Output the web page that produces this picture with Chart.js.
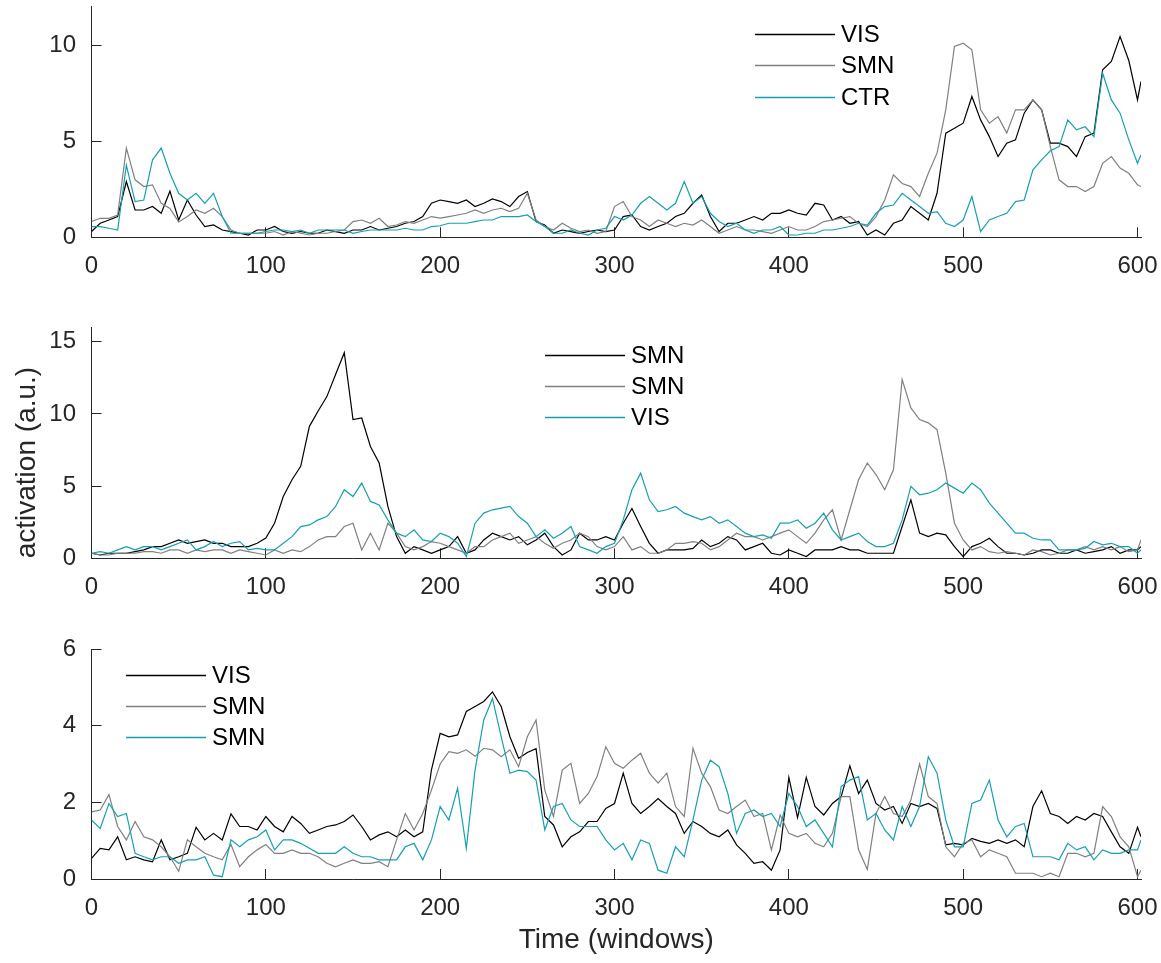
<!DOCTYPE html>
<html>
<head>
<meta charset="utf-8">
<script src="https://cdn.jsdelivr.net/npm/chart.js@4/dist/chart.umd.min.js"></script>
<style>
html,body{margin:0;padding:0;background:#fff;}
#wrap{position:relative;width:1161px;height:963px;}
canvas{position:absolute;left:0;top:0;}
</style>
</head>
<body>
<div id="wrap">
<canvas id="c1" width="1161" height="963"></canvas>
<canvas id="c2" width="1161" height="963"></canvas>
<canvas id="c3" width="1161" height="963"></canvas>
</div>
<script>
// ---- sampling grid (time windows) ----
const windows = [0,5,10,15,20,25,30,35,40,45,50,55,60,65,70,75,80,85,90,95,
100,105,110,115,120,125,130,135,140,145,150,155,160,165,170,175,180,185,190,195,
200,205,210,215,220,225,230,235,240,245,250,255,260,265,270,275,280,285,290,295,
300,305,310,315,320,325,330,335,340,345,350,355,360,365,370,375,380,385,390,395,
400,405,410,415,420,425,430,435,440,445,450,455,460,465,470,475,480,485,490,495,
500,505,510,515,520,525,530,535,540,545,550,555,560,565,570,575,580,585,590,595,
600,602];

// ---- tick labels ----
const xTicks = [0,100,200,300,400,500,600];
const p1YTicks = [0,5,10];
const p2YTicks = [0,5,10,15];
const p3YTicks = [0,2,4,6];

// ---- legend labels ----
const p1Labels = ['VIS','SMN','CTR'];
const p2Labels = ['SMN','SMN','VIS'];
const p3Labels = ['VIS','SMN','SMN'];

// ---- panel 1 series ----
const p1A = [0.30,0.73,0.90,1.08,2.90,1.42,1.42,1.60,1.25,2.40,
0.90,1.94,1.16,0.56,0.64,0.38,0.30,0.21,0.12,0.38,
0.38,0.56,0.30,0.21,0.30,0.21,0.21,0.38,0.30,0.21,
0.38,0.38,0.56,0.38,0.47,0.56,0.73,0.82,1.08,1.77,
1.94,1.86,1.77,1.94,1.60,1.77,2.00,1.86,1.60,2.12,
2.38,0.82,0.64,0.21,0.38,0.30,0.21,0.30,0.38,0.30,
0.38,1.08,1.16,0.56,0.38,0.56,0.73,1.08,1.25,1.77,
2.20,1.08,0.30,0.73,0.73,0.90,1.08,0.90,1.25,1.25,
1.42,1.25,1.16,1.77,1.68,0.90,1.08,0.73,0.82,0.12,
0.38,0.12,0.73,0.90,1.60,1.25,0.90,2.29,5.42,5.68,
5.94,7.33,6.11,5.24,4.20,4.90,5.07,6.46,7.15,6.63,
4.90,4.90,4.72,4.20,5.24,5.42,8.72,9.15,10.45,9.20,
7.15,8.11];
const p1B = [0.82,0.99,0.99,1.16,4.64,2.99,2.64,2.73,1.77,1.50,
0.80,1.08,1.42,1.25,1.51,1.08,0.38,0.21,0.21,0.21,
0.21,0.30,0.12,0.30,0.21,0.12,0.21,0.21,0.30,0.38,
0.82,0.90,0.73,0.99,0.56,0.64,0.82,0.73,0.90,1.08,
1.00,1.08,1.16,1.25,1.42,1.25,1.42,1.51,1.34,1.51,
2.29,0.90,0.56,0.38,0.73,0.47,0.30,0.38,0.21,0.30,
1.60,1.86,1.08,0.90,0.56,0.90,0.73,0.56,0.73,0.64,
0.90,0.56,0.21,0.38,0.56,0.38,0.38,0.30,0.21,0.38,
0.56,0.38,0.38,0.56,0.82,0.90,0.99,1.08,0.73,0.56,
1.08,1.94,3.25,2.80,2.64,2.12,3.33,4.38,6.63,9.93,
10.10,9.76,6.63,5.94,6.28,5.42,6.63,6.63,7.15,6.63,
4.72,2.99,2.64,2.64,2.38,2.64,3.85,4.20,3.60,3.33,
2.73,2.64];
const p1C = [0.56,0.56,0.47,0.38,3.75,1.86,1.94,4.03,4.64,3.33,
2.29,1.94,2.29,1.77,2.29,1.08,0.21,0.21,0.21,0.21,
0.30,0.38,0.38,0.30,0.38,0.21,0.38,0.38,0.38,0.38,
0.21,0.30,0.38,0.38,0.38,0.38,0.47,0.38,0.38,0.56,
0.60,0.73,0.73,0.73,0.82,0.90,0.90,1.08,1.08,1.08,
1.16,0.82,0.56,0.21,0.21,0.38,0.21,0.12,0.38,0.47,
1.08,0.90,1.16,1.77,2.12,1.77,1.42,1.77,2.90,1.77,
2.12,1.25,0.82,0.56,0.73,0.38,0.21,0.38,0.38,0.56,
0.12,0.12,0.21,0.21,0.38,0.38,0.47,0.56,0.73,0.64,
1.25,1.60,1.68,2.29,1.94,1.60,1.25,1.34,0.73,0.56,
0.90,2.12,0.30,0.90,1.08,1.25,1.86,1.94,3.51,4.03,
4.50,4.72,6.11,5.59,5.75,5.24,8.54,7.15,6.46,5.07,
3.85,4.30];

// ---- panel 2 series ----
const p2A = [0.35,0.23,0.35,0.35,0.35,0.46,0.58,0.81,0.81,1.04,
1.27,1.04,1.16,1.27,1.04,1.04,0.81,0.81,0.81,1.04,
1.40,2.43,4.28,5.44,6.37,9.14,10.20,11.20,12.73,14.24,
9.61,9.72,7.75,6.60,3.59,1.50,0.35,0.81,0.58,0.35,
0.58,0.81,1.50,0.35,0.58,1.27,1.74,1.50,1.27,1.50,
0.93,1.27,1.74,0.81,0.23,0.58,1.74,1.27,1.27,1.50,
1.27,2.43,3.45,2.20,1.04,0.35,0.58,0.58,0.58,0.69,
1.27,0.81,1.04,1.50,1.27,0.58,0.81,1.04,0.35,0.23,
0.58,0.35,0.12,0.58,0.58,0.58,0.81,0.58,0.58,0.35,
0.35,0.35,0.35,2.20,4.05,1.74,1.50,1.74,1.62,0.81,
0.12,0.81,1.04,1.39,0.81,0.35,0.35,0.23,0.35,0.58,
0.58,0.35,0.35,0.58,0.35,0.46,0.58,0.81,0.35,0.58,
0.58,0.81];
const p2B = [0.35,0.23,0.23,0.35,0.35,0.35,0.46,0.46,0.35,0.58,
0.58,0.35,0.58,0.46,0.58,0.58,0.35,0.58,0.46,0.35,
0.23,0.58,0.35,0.58,0.46,0.81,1.27,1.50,1.50,2.20,
2.43,0.58,1.74,0.58,2.43,1.74,0.81,0.58,0.81,1.16,
1.04,0.81,0.58,0.35,0.81,0.81,1.27,1.50,1.74,1.04,
1.27,1.50,1.04,0.69,1.04,1.27,1.74,1.50,0.81,0.58,
0.81,1.50,0.58,0.81,0.35,0.35,0.58,1.04,1.04,1.16,
1.04,0.58,0.81,1.27,1.74,1.50,1.50,1.27,1.50,1.74,
1.97,1.50,1.04,1.74,2.66,3.36,1.27,3.36,5.44,6.60,
5.80,4.75,6.13,12.38,10.42,9.61,9.38,8.91,5.90,2.43,
1.27,0.58,0.81,0.46,0.35,0.46,0.35,0.23,0.58,0.46,
0.23,0.35,0.58,0.58,0.81,0.58,0.81,0.58,0.81,0.46,
0.58,1.27];
const p2C = [0.35,0.46,0.35,0.58,0.81,0.58,0.81,0.81,0.58,0.81,
1.04,1.27,0.58,0.81,1.16,0.81,1.04,1.16,0.58,0.69,
0.58,0.58,1.04,1.50,2.20,2.31,2.66,2.89,3.59,4.75,
4.28,5.21,3.94,3.70,2.66,1.74,1.50,1.97,1.27,1.16,
1.74,1.50,1.04,0.12,2.43,3.13,3.36,3.47,3.59,2.89,
2.43,1.50,1.97,1.39,1.74,2.20,0.81,0.58,0.35,0.81,
1.04,2.66,4.75,5.90,4.05,3.24,3.36,3.59,3.13,2.89,
2.66,2.89,2.43,2.66,2.20,1.74,1.50,1.62,1.39,2.43,
2.43,2.66,2.08,2.43,3.13,1.97,1.27,1.50,1.74,1.16,
0.81,0.81,1.04,2.66,4.98,4.40,4.51,4.75,5.21,4.86,
4.51,5.21,4.75,3.82,3.13,2.43,1.74,1.74,1.39,1.27,
1.27,0.58,0.58,0.58,0.69,1.16,0.93,1.04,0.81,0.81,
0.35,0.58];

// ---- panel 3 series ----
const p3A = [0.54,0.80,0.76,1.10,0.50,0.58,0.50,0.45,1.02,0.50,
0.58,0.67,1.35,1.02,1.19,1.02,1.70,1.37,1.37,1.28,
1.63,1.37,1.23,1.63,1.45,1.19,1.28,1.37,1.41,1.50,
1.67,1.37,1.02,1.15,1.23,1.10,1.28,1.10,1.23,2.85,
3.80,3.71,3.76,4.37,4.50,4.63,4.88,4.50,3.71,3.15,
3.30,3.40,1.63,1.41,0.84,1.10,1.23,1.50,1.50,1.84,
1.97,2.76,1.97,1.71,1.89,2.10,1.89,1.71,1.19,1.50,
1.37,1.19,1.10,1.28,0.89,0.67,0.41,0.45,0.23,0.76,
2.65,1.60,2.65,1.89,1.67,1.97,2.15,2.95,2.23,2.58,
1.97,1.80,1.89,1.45,1.97,1.89,1.97,1.84,0.89,0.93,
0.89,1.06,0.98,0.93,1.02,0.93,1.02,0.84,1.89,2.30,
1.71,1.63,1.45,1.63,1.54,1.71,1.63,1.23,0.84,0.67,
1.35,1.10];
const p3B = [1.75,1.80,2.20,1.37,1.02,1.50,1.10,1.02,0.84,0.58,
0.20,1.02,0.84,0.67,0.58,0.50,0.90,0.32,0.58,0.76,
0.90,0.67,0.67,0.76,0.67,0.67,0.58,0.41,0.32,0.41,
0.50,0.41,0.41,0.45,0.32,1.02,1.71,1.28,1.71,2.32,
3.00,3.32,3.28,3.37,3.20,3.41,3.37,3.19,3.37,2.93,
3.71,4.15,2.32,1.63,2.84,3.02,1.97,2.23,2.67,3.45,
3.02,2.89,3.10,3.28,2.76,2.50,2.76,1.89,1.63,3.41,
2.76,2.41,1.80,1.71,1.89,2.06,1.63,1.71,0.76,1.67,
1.19,1.10,1.19,0.93,0.84,1.19,2.15,2.15,0.76,0.25,
1.71,2.15,1.71,1.63,2.06,3.00,2.15,1.97,0.84,0.58,
0.93,1.02,0.58,0.76,0.67,0.58,0.15,0.15,0.15,0.06,
0.15,0.06,0.67,0.67,0.58,0.67,1.89,1.63,1.10,0.84,
0.06,0.23];
const p3C = [1.54,1.32,1.97,1.63,1.71,0.67,0.58,0.50,0.58,0.58,
0.41,0.50,0.50,0.58,0.10,0.06,1.02,0.84,1.02,1.10,
1.28,0.76,1.02,1.02,0.93,0.80,0.67,0.67,0.67,0.84,
0.67,0.58,0.58,0.50,0.50,0.50,0.84,0.93,0.50,1.02,
1.89,1.54,2.37,0.80,2.84,4.15,4.71,3.71,2.76,2.84,
2.80,2.58,1.28,1.89,1.97,1.54,1.37,1.37,1.37,1.02,
0.76,0.93,0.50,1.02,0.93,0.23,0.15,0.84,0.58,1.54,
2.58,3.10,2.93,2.23,1.19,1.71,1.80,1.63,1.71,1.37,
2.23,1.89,1.37,1.54,1.19,0.84,2.41,2.58,2.67,1.54,
1.71,1.28,1.02,1.89,1.37,1.89,3.19,2.76,1.54,0.84,
0.84,1.97,2.06,2.58,1.54,1.10,1.37,1.45,0.58,0.58,
0.58,0.50,0.93,0.76,0.84,0.50,0.76,0.67,0.67,0.76,
0.76,1.02];

// ---- styling ----
const FONT = '"Liberation Sans", Arial, Helvetica, sans-serif';
const AXIS = '#262626';
const COLORS = ['#000000', '#808080', '#14a0b4'];

const insideLegend = {
  id: 'insideLegend',
  afterDraw(chart, args, o) {
    const ctx = chart.ctx;
    ctx.save();
    chart.data.datasets.forEach((ds, i) => {
      const y = Math.round(o.y0 + i * o.dy) + 0.5;
      ctx.strokeStyle = ds.borderColor;
      ctx.lineWidth = 1.5;
      ctx.beginPath();
      ctx.moveTo(o.x1, y);
      ctx.lineTo(o.x2, y);
      ctx.stroke();
      ctx.fillStyle = '#000';
      ctx.font = '24px ' + FONT;
      ctx.textBaseline = 'middle';
      ctx.textAlign = 'left';
      ctx.fillText(ds.label, o.x2 + 6, y + 1);
    });
    ctx.restore();
  }
};

function makeChart(id, labels, series, yTicks, cfg) {
  const datasets = series.map((vals, i) => ({
    label: labels[i],
    data: vals.map((v, k) => ({x: windows[k], y: v})),
    borderColor: COLORS[i],
    borderWidth: 1.2,
    pointRadius: 0,
    fill: false,
    tension: 0,
    order: 3 - i
  }));
  return new Chart(document.getElementById(id), {
    type: 'line',
    data: {datasets},
    plugins: [insideLegend],
    options: {
      responsive: false,
      animation: false,
      devicePixelRatio: 1,
      events: [],
      layout: {padding: {left: 0, right: 20, top: cfg.top, bottom: cfg.padBottom}},
      plugins: {
        legend: {display: false},
        tooltip: {enabled: false},
        insideLegend: cfg.legend
      },
      scales: {
        x: {
          type: 'linear', min: 0, max: 602,
          afterBuildTicks: s => { s.ticks = xTicks.map(v => ({value: v})); },
          afterFit: s => { s.height = cfg.xH; s.paddingLeft = 0; s.paddingRight = 0; s.paddingTop = 0; s.paddingBottom = 0; },
          grid: {drawOnChartArea: false, drawTicks: true, tickLength: -10, color: AXIS, lineWidth: 1},
          border: {display: true, color: AXIS, width: 1},
          ticks: {padding: 24.5, color: AXIS, font: {family: FONT, size: 24}, maxRotation: 0, autoSkip: false},
          title: cfg.xTitle ? {display: true, text: cfg.xTitle, color: AXIS, font: {family: FONT, size: 28}, padding: {top: 0, bottom: 6}} : {display: false}
        },
        y: {
          type: 'linear', min: 0, max: cfg.ymax,
          afterBuildTicks: s => { s.ticks = yTicks.map(v => ({value: v})); },
          afterFit: s => { s.width = 91.5; s.paddingLeft = 0; s.paddingRight = 0; s.paddingTop = 0; s.paddingBottom = 0; },
          grid: {drawOnChartArea: false, drawTicks: true, tickLength: -10, color: AXIS, lineWidth: 1},
          border: {display: true, color: AXIS, width: 1},
          ticks: {padding: 25.5, color: AXIS, font: {family: FONT, size: 24}, autoSkip: false},
          title: cfg.yTitle ? {display: true, text: cfg.yTitle, align: 'start', color: AXIS, font: {family: FONT, size: 28}, padding: {top: 10, bottom: 0}} : {display: false}
        }
      }
    }
  });
}

makeChart('c1', p1Labels, [p1A, p1B, p1C], p1YTicks,
  {top: 6.7, padBottom: 685.7, xH: 40, ymax: 12,
   legend: {x1: 755, x2: 835, y0: 34, dy: 31.3}});
makeChart('c2', p2Labels, [p2A, p2B, p2C], p2YTicks,
  {top: 327.3, padBottom: 364.7, xH: 40, ymax: 16, yTitle: 'activation (a.u.)',
   legend: {x1: 545, x2: 625, y0: 354.7, dy: 31}});
makeChart('c3', p3Labels, [p3A, p3B, p3C], p3YTicks,
  {top: 649, padBottom: 0, xH: 84, ymax: 6, xTitle: 'Time (windows)',
   legend: {x1: 126, x2: 206, y0: 675, dy: 31.2}});
</script>
</body>
</html>
